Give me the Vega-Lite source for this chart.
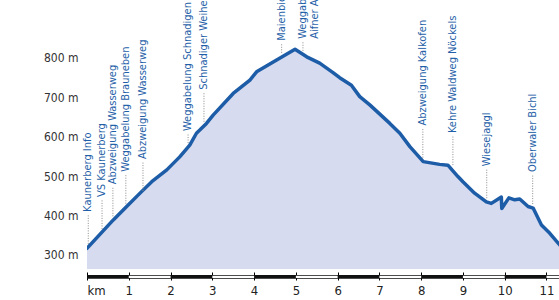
{
  "$schema": "https://vega.github.io/schema/vega-lite/v6.json",
  "width": 472,
  "height": 280,
  "autosize": {"type": "none"},
  "padding": {"left": 87, "top": 0, "right": 0, "bottom": 20},
  "background": "white",
  "config": {"view": {"stroke": null}, "font": "Liberation Sans Narrow, DejaVu Sans Condensed, sans-serif"},
  "datasets": {
    "profile": [
      {"km": 0, "elev": 317}, {"km": 0.63, "elev": 389}, {"km": 0.95, "elev": 423},
      {"km": 1.27, "elev": 457}, {"km": 1.55, "elev": 486}, {"km": 1.91, "elev": 516},
      {"km": 2.22, "elev": 549}, {"km": 2.46, "elev": 579}, {"km": 2.62, "elev": 609},
      {"km": 2.7, "elev": 617}, {"km": 2.86, "elev": 634}, {"km": 3.02, "elev": 655},
      {"km": 3.5, "elev": 710}, {"km": 3.9, "elev": 744}, {"km": 4.06, "elev": 765},
      {"km": 4.54, "elev": 795}, {"km": 4.98, "elev": 822}, {"km": 5.26, "elev": 803},
      {"km": 5.57, "elev": 787}, {"km": 5.89, "elev": 763}, {"km": 6.05, "elev": 750},
      {"km": 6.33, "elev": 731}, {"km": 6.53, "elev": 702}, {"km": 6.77, "elev": 681},
      {"km": 7.25, "elev": 634}, {"km": 7.49, "elev": 609}, {"km": 7.73, "elev": 575},
      {"km": 8.05, "elev": 537}, {"km": 8.44, "elev": 530}, {"km": 8.64, "elev": 528},
      {"km": 8.88, "elev": 499}, {"km": 9.0, "elev": 486}, {"km": 9.28, "elev": 457},
      {"km": 9.56, "elev": 435}, {"km": 9.68, "elev": 431}, {"km": 9.92, "elev": 447},
      {"km": 9.93, "elev": 418}, {"km": 10.1, "elev": 445}, {"km": 10.24, "elev": 440},
      {"km": 10.36, "elev": 442}, {"km": 10.56, "elev": 423}, {"km": 10.68, "elev": 419},
      {"km": 10.88, "elev": 376}, {"km": 11.08, "elev": 355}, {"km": 11.28, "elev": 330},
      {"km": 11.4, "elev": 316}
    ],
    "waypoints": [
      {"name": "Kaunerberg Info", "km": 0.03, "elev": 318},
      {"name": "VS Kaunerberg", "km": 0.36, "elev": 356},
      {"name": "Abzweigung Wasserweg", "km": 0.62, "elev": 388},
      {"name": "Weggabelung Brauneben", "km": 0.93, "elev": 420},
      {"name": "Abzweigung Wasserweg ", "km": 1.34, "elev": 452},
      {"name": "Weggabelung Schnadigen", "km": 2.42, "elev": 574},
      {"name": "Schnadiger Weiher", "km": 2.8, "elev": 628},
      {"name": "Maienbichl", "km": 4.66, "elev": 803},
      {"name": "Weggabelung\nAifner Alm", "km": 5.17, "elev": 808},
      {"name": "Abzweigung Kalkofen", "km": 8.04, "elev": 537},
      {"name": "Kehre Waldweg Nöckels", "km": 8.76, "elev": 518},
      {"name": "Wiesejaggl", "km": 9.57, "elev": 434},
      {"name": "Oberwaler Bichl", "km": 10.67, "elev": 419}
    ],
    "scalebar": [
      {"from": 1, "to": 2}, {"from": 3, "to": 4}, {"from": 5, "to": 6},
      {"from": 7, "to": 8}, {"from": 9, "to": 10}, {"from": 11, "to": 12}
    ]
  },
  "layer": [
    {
      "data": {"name": "profile"},
      "mark": {"type": "area", "color": "#d7dbef", "clip": true},
      "encoding": {
        "x": {"field": "km", "type": "quantitative", "scale": {"domain": [0, 11.3], "nice": false, "zero": false},
          "axis": {"values": [0,1,2,3,4,5,6,7,8,9,10,11], "labelExpr": "datum.value === 0 ? 'km' : datum.label", "labelFontSize": 13, "labelColor": "#222", "domain": false, "grid": false, "tickColor": "#000", "tickSize": -8, "tickWidth": 1, "labelPadding": 12, "title": null}},
        "y": {"field": "elev", "type": "quantitative", "scale": {"domain": [236.5, 947.2], "nice": false, "zero": false},
          "axis": {"values": [300,400,500,600,700,800], "labelExpr": "datum.value + ' m'", "labelFontSize": 12, "labelColor": "#333", "domain": false, "ticks": false, "grid": false, "labelPadding": 9, "title": null}},
        "y2": {"datum": 264.5}
      }
    },
    {
      "data": {"values": [{}]},
      "mark": {"type": "rect", "color": "#111"},
      "encoding": {
        "x": {"datum": 0, "type": "quantitative", "scale": {"domain": [0, 11.3], "nice": false, "zero": false}},
        "x2": {"datum": 11.3},
        "y": {"datum": 239.6, "type": "quantitative", "scale": {"domain": [236.5, 947.2], "nice": false, "zero": false}},
        "y2": {"datum": 249.4}
      }
    },
    {
      "data": {"name": "scalebar"},
      "mark": {"type": "rect", "color": "white", "clip": true},
      "encoding": {
        "x": {"field": "from", "type": "quantitative", "scale": {"domain": [0, 11.3], "nice": false, "zero": false}},
        "x2": {"field": "to"},
        "y": {"datum": 241.8, "type": "quantitative", "scale": {"domain": [236.5, 947.2], "nice": false, "zero": false}},
        "y2": {"datum": 247.2}
      }
    },
    {
      "data": {"name": "profile"},
      "mark": {"type": "line", "color": "#1d5ca7", "strokeWidth": 3.5, "strokeJoin": "round", "strokeCap": "round", "clip": true},
      "encoding": {
        "x": {"field": "km", "type": "quantitative", "scale": {"domain": [0, 11.3], "nice": false, "zero": false}},
        "y": {"field": "elev", "type": "quantitative", "scale": {"domain": [236.5, 947.2], "nice": false, "zero": false}}
      }
    },
    {
      "data": {"name": "waypoints"},
      "transform": [{"filter": {"not": {"field": "name", "oneOf": ["Weggabelung Schnadigen", "Maienbichl", "Weggabelung\nAifner Alm"]}}}],
      "layer": [
        {
          "mark": {"type": "rule", "color": "#8a8a8a", "strokeWidth": 1, "strokeDash": [1, 1.5], "yOffset": -4, "y2Offset": -33},
          "encoding": {
            "x": {"field": "km", "type": "quantitative", "scale": {"domain": [0, 11.3], "nice": false, "zero": false}},
            "y": {"field": "elev", "type": "quantitative", "scale": {"domain": [236.5, 947.2], "nice": false, "zero": false}},
            "y2": {"field": "elev"}
          }
        },
        {
          "mark": {"type": "text", "angle": 270, "align": "left", "baseline": "middle", "dx": 36, "fontSize": 11, "color": "#1f5fa8", "lineBreak": "\n", "lineHeight": 13},
          "encoding": {
            "x": {"field": "km", "type": "quantitative", "scale": {"domain": [0, 11.3], "nice": false, "zero": false}},
            "y": {"field": "elev", "type": "quantitative", "scale": {"domain": [236.5, 947.2], "nice": false, "zero": false}},
            "text": {"field": "name"}
          }
        }
      ]
    },
    {
      "data": {"name": "waypoints"},
      "transform": [{"filter": {"field": "name", "oneOf": ["Weggabelung Schnadigen", "Maienbichl", "Weggabelung\nAifner Alm"]}}],
      "layer": [
        {
          "mark": {"type": "rule", "color": "#8a8a8a", "strokeWidth": 1, "strokeDash": [1, 1.5], "yOffset": -4, "y2Offset": -14},
          "encoding": {
            "x": {"field": "km", "type": "quantitative", "scale": {"domain": [0, 11.3], "nice": false, "zero": false}},
            "y": {"field": "elev", "type": "quantitative", "scale": {"domain": [236.5, 947.2], "nice": false, "zero": false}},
            "y2": {"field": "elev"}
          }
        },
        {
          "mark": {"type": "text", "angle": 270, "align": "left", "baseline": "middle", "dx": 16, "fontSize": 11, "color": "#1f5fa8", "lineBreak": "\n", "lineHeight": 12},
          "encoding": {
            "x": {"field": "km", "type": "quantitative", "scale": {"domain": [0, 11.3], "nice": false, "zero": false}},
            "y": {"field": "elev", "type": "quantitative", "scale": {"domain": [236.5, 947.2], "nice": false, "zero": false}},
            "text": {"field": "name"}
          }
        }
      ]
    }
  ]
}
